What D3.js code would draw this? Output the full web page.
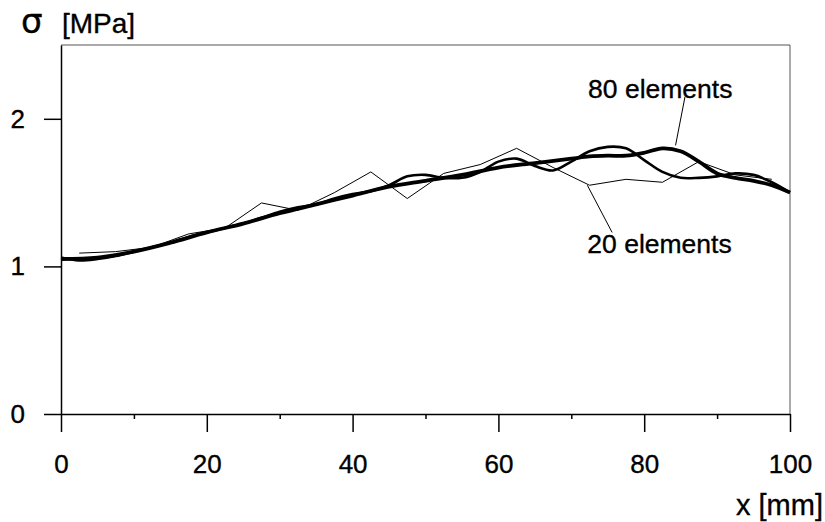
<!DOCTYPE html>
<html>
<head>
<meta charset="utf-8">
<script src="https://cdn.jsdelivr.net/npm/d3@7"></script>
<style>
  body { margin: 0; background: #fff; }
  svg { display: block; font-family: "Liberation Sans", Arial, sans-serif; }
  svg text { fill: #000; stroke: #000; stroke-width: 0.35; }
  .axis text { font-size: 26px; }
  .axis path, .axis line { stroke: #000; stroke-width: 1.5; }
</style>
</head>
<body>
<div class="chart"></div>
<script>
// 20 elements (thin zigzag)
var x20 = [2.5,7.5,12.5,17.5,22.5,27.5,32.5,37.5,42.5,47.5,52.5,57.5,62.5,67.5,72.5,77.5,82.5,87.5,92.5,97.5];
var s20 = [1.09,1.10,1.13,1.22,1.26,1.43,1.38,1.50,1.64,1.46,1.63,1.69,1.80,1.67,1.55,1.59,1.57,1.71,1.62,1.59];

// middle mesh (medium line)
var xMid = [0,2.5,5,7.5,10,12.5,15,17.5,20,22.5,25,27.5,30,32.5,35,37.5,40,42.5,45,47.5,50,52.5,55,57.5,60,62.5,65,67.5,70,72.5,75,77.5,80,82.5,85,87.5,90,92.5,95,97.5,100];
var sMid = [1.06,1.04,1.05,1.07,1.10,1.13,1.16,1.20,1.23,1.26,1.29,1.33,1.37,1.40,1.42,1.46,1.49,1.51,1.55,1.61,1.62,1.60,1.60,1.64,1.71,1.73,1.68,1.65,1.71,1.78,1.81,1.80,1.72,1.64,1.60,1.60,1.61,1.63,1.62,1.57,1.50];

// 80 elements (thick line)
var x80 = [0,5,10,15,20,25,30,35,40,45,50,55,60,65,70,72.5,75,77.5,80,82.5,85,87.5,90,92.5,95,97.5,100];
var s80 = [1.05,1.06,1.10,1.16,1.23,1.29,1.36,1.42,1.48,1.54,1.58,1.62,1.67,1.70,1.73,1.745,1.75,1.75,1.77,1.80,1.78,1.71,1.63,1.60,1.58,1.55,1.50];

var xTicks = [0,20,40,60,80,100];
var xMinor = [10,30,50,70,90];
var yTicks = [0,1,2];

var svg = d3.select(".chart").append("svg")
            .attr("width",825)
            .attr("height",522);

var x = d3.scaleLinear().domain([0,100]).range([61,790]);
var y = d3.scaleLinear().domain([0,2.5]).range([414,45]);

// frame top / right
svg.append("line")
   .attr("x1",x(0)).attr("x2",x(100))
   .attr("y1",y(2.5)).attr("y2",y(2.5))
   .attr("stroke","#555").attr("stroke-width",1);
svg.append("line")
   .attr("x1",x(100)).attr("x2",x(100))
   .attr("y1",y(2.5)).attr("y2",y(0))
   .attr("stroke","#555").attr("stroke-width",1);

// minor x ticks
svg.append("g")
   .attr("class","axis")
   .attr("transform","translate(0," + y(0) + ")")
   .call(d3.axisBottom(x).tickValues(xMinor).tickSize(5).tickFormat(""))
   .select(".domain").remove();

svg.append("g")
   .attr("class","axis")
   .attr("transform","translate(0," + y(0) + ")")
   .call(d3.axisBottom(x).tickValues(xTicks).tickSize(18).tickSizeOuter(0).tickPadding(23));

svg.append("g")
   .attr("class","axis")
   .attr("transform","translate(" + x(0) + ",0)")
   .call(d3.axisLeft(y).tickValues(yTicks).tickSize(17).tickSizeOuter(0).tickPadding(19).tickFormat(d3.format("d")));

var straight = d3.line()
             .x(function(d){ return x(d[0]); })
             .y(function(d){ return y(d[1]); });
var smooth = d3.line()
             .curve(d3.curveCatmullRom)
             .x(function(d){ return x(d[0]); })
             .y(function(d){ return y(d[1]); });

var series = [
  {xs: x20, ys: s20, w: 1, gen: straight},
  {xs: xMid, ys: sMid, w: 2.6, gen: smooth},
  {xs: x80, ys: s80, w: 3.8, gen: smooth}
];

svg.selectAll(".curve")
   .data(series)
   .enter()
   .append("path")
   .attr("class","curve")
   .attr("fill","none")
   .attr("stroke","#000")
   .attr("stroke-linejoin","round")
   .attr("stroke-width",function(d){ return d.w; })
   .attr("d",function(d){
     return d.gen(d.xs.map(function(v,i){ return [v, d.ys[i]]; }));
   });

// annotations
svg.append("text")
   .attr("x",x(72.3)).attr("y",y(2.14))
   .style("font-size","26.5px")
   .text("80 elements");
svg.append("line")
   .attr("x1",x(85.6)).attr("y1",y(2.15))
   .attr("x2",x(84.3)).attr("y2",y(1.82))
   .attr("stroke","#000").attr("stroke-width",1);

svg.append("text")
   .attr("x",x(72.2)).attr("y",y(1.09))
   .style("font-size","26.5px")
   .text("20 elements");
svg.append("line")
   .attr("x1",x(72.2)).attr("y1",y(1.55))
   .attr("x2",x(75.6)).attr("y2",y(1.23))
   .attr("stroke","#000").attr("stroke-width",1);

// axis titles
svg.append("text")
   .attr("x",21).attr("y",33)
   .style("font-family","'DejaVu Sans', sans-serif")
   .style("font-size","34px")
   .text("σ");
svg.append("text")
   .attr("x",62).attr("y",33)
   .style("font-size","28px")
   .text("[MPa]");

svg.append("text")
   .attr("x",823).attr("y",515)
   .attr("text-anchor","end")
   .style("font-size","29px")
   .text("x [mm]");
</script>
</body>
</html>
